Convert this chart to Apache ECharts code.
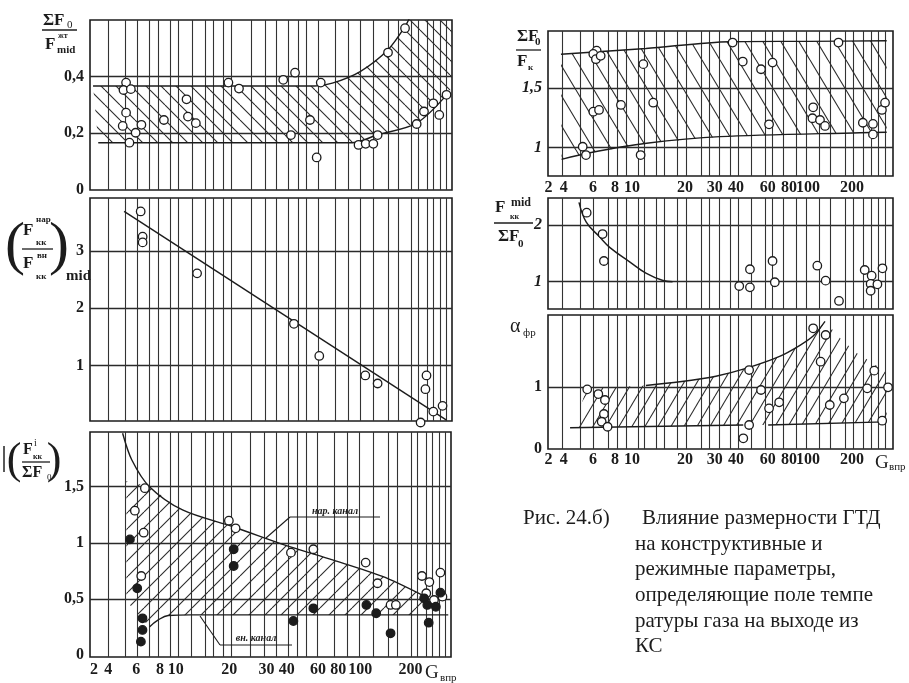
<!DOCTYPE html>
<html><head><meta charset="utf-8">
<script src="https://cdn.jsdelivr.net/npm/echarts@6/dist/echarts.min.js"></script>
<style>html,body{margin:0;padding:0;background:#fff}#c{width:909px;height:683px}</style>
</head><body><div id="c"></div>
<script>
// ===== DATA (G = x value, v = y value) =====
const xTickLabels = ['2','4','6','8','10','20','30','40','60','80','100','200'];
const xTickAtLeft  = [3.6,4.3,6.1,8.2,10,19.5,31,40,59,76,100,187];
const xTickAtRight = [3.36,4.1,6,8,10,20,29.5,39,59,78,100,178];
const xGridLeft  = [4.3,5.3,6.2,7.2,8,9.3,10.3,12.2,14.4,15.9,18,20,25.4,30.3,35,40.5,45.8,50.8,58.7,72.3,85.3,99,117,141,159,188,204,227,246,267,290];
const xGridRight = [4,5.1,6,7.3,8.3,9.3,10.8,11.8,13.7,15.3,18,20.4,24.8,27.6,31.5,36,40,47.6,57,63,72,86,98,116,133,162,180,205,229,250,273];

// Panel A: ΣF0 / F^жт_mid
const aOpen = [[5.37,0.379],[5.2,0.353],[5.7,0.356],[5.37,0.273],[5.15,0.226],[6.05,0.202],[5.6,0.167],[6.5,0.23],[8.6,0.247],[11.4,0.32],[11.6,0.259],[12.8,0.236],[19.2,0.379],[21.9,0.358],[38,0.389],[44,0.414],[41.8,0.194],[53,0.247],[57.6,0.115],[60.6,0.379],[97,0.159],[106,0.163],[116.6,0.163],[123,0.194],[140,0.485],[173,0.571],[200,0.233],[219,0.277],[246,0.306],[265,0.265],[290,0.336]];
const aUpper = [[3.56,0.367],[30,0.367],[56,0.367],[70,0.377],[99,0.418],[140,0.495],[173,0.577],[190,0.63]];
const aLower = [[3.8,0.167],[50,0.167],[90,0.167],[122,0.194],[200,0.236],[296,0.342]];
const aBandTop = [[3.56,0.367],[30,0.367],[56,0.367],[70,0.377],[99,0.418],[140,0.495],[173,0.577],[190,0.63],[310,0.63]];
const aBandBottom = [[3.8,0.167],[50,0.167],[90,0.167],[122,0.194],[200,0.236],[296,0.342],[310,0.36]];

// Panel B: (F^нар_кк / F^вн_кк)_mid
const bOpen = [[6.44,3.69],[6.6,3.25],[6.6,3.15],[13.0,2.61],[43.4,1.73],[59.5,1.17],[105.5,0.83],[123,0.69],[226,0.83],[223,0.59],[210,0.01],[246,0.2],[276,0.3]];
const bLine = [[5.24,3.69],[290,0.05]];

// Panel C: (F^i_кк / ΣF0)
const cOpen = [[6.8,1.486],[6.0,1.286],[6.7,1.09],[6.5,0.704],[19.4,1.197],[21.1,1.129],[42.1,0.912],[55.7,0.942],[107,0.823],[124,0.639],[146,0.446],[156,0.446],[216,0.704],[237,0.65],[228,0.55],[272,0.734],[251,0.49],[279,0.52]];
const cFilled = [[5.64,1.03],[6.18,0.594],[6.6,0.327],[6.6,0.223],[6.47,0.119],[20.6,0.942],[20.6,0.793],[43.4,0.303],[55.7,0.416],[108,0.446],[122,0.372],[146,0.193],[222,0.505],[231,0.446],[257,0.43],[235,0.288],[272,0.555]];
const cUpper = [[5.15,1.976],[5.77,1.74],[7.2,1.5],[10.95,1.29],[20.4,1.143],[41.4,0.965],[70.8,0.847],[132,0.70],[216,0.535]];
const cLower = [[7.2,0.25],[8.0,0.31],[9.1,0.352],[12,0.357],[300,0.357]];
const cBandTop = [[5.4,1.55],[7.2,1.5],[10.95,1.29],[20.4,1.143],[41.4,0.965],[70.8,0.847],[132,0.70],[216,0.535]];
const cBandBottom = [[5.4,0.48],[7.2,0.25],[8.0,0.31],[9.1,0.352],[12,0.357],[216,0.357]];

// Panel D: ΣF0 / F_к
const dOpen = [[6.3,1.817],[6.03,1.789],[6.24,1.745],[6.64,1.773],[11.6,1.703],[6.03,1.303],[6.5,1.318],[8.66,1.36],[13.2,1.379],[5.25,1.008],[5.48,0.938],[11.2,0.938],[37.3,1.885],[42.6,1.725],[54.1,1.66],[62.9,1.716],[60.1,1.197],[107,1.34],[106,1.248],[117,1.233],[125,1.183],[149,1.885],[205,1.21],[234,1.2],[234,1.112],[263,1.318],[274,1.379]];
const dUpper = [[3.95,1.786],[12,1.835],[36,1.892],[100,1.895],[280,1.9]];
const dLower = [[3.98,0.902],[5.77,0.958],[12.1,1.037],[31.6,1.093],[197,1.126],[280,1.13]];

// Panel E: F^mid_кк / ΣF0
const eOpen = [[5.53,2.217],[6.81,1.84],[6.93,1.365],[40.7,0.924],[46.8,1.219],[46.8,0.90],[62.9,1.365],[64.8,0.99],[113,1.282],[126,1.018],[150,0.66],[210,1.206],[230,1.106],[227,0.96],[227,0.84],[248,0.954],[265,1.236]];
const eCurve = [[5.0,2.4],[5.5,2.05],[6.5,1.8],[7.5,1.6],[9.7,1.35],[12,1.15],[15,1.02],[17,1.0]];

// Panel F: α_фр
const fOpen = [[5.57,0.967],[6.44,0.891],[7.02,0.794],[6.93,0.567],[6.73,0.442],[7.27,0.361],[46.3,1.28],[46.3,0.389],[42.9,0.173],[54.1,0.956],[60.1,0.659],[68.6,0.757],[107,1.956],[126,1.848],[118,1.415],[133,0.713],[160,0.821],[238,1.27],[217,0.983],[285,1.0],[264,0.459]];
const fUpper = [[12,1.03],[18.7,1.09],[30,1.18],[44.9,1.31],[69,1.5],[90,1.68],[107,1.83],[125,2.07]];
const fLower1 = [[4.45,0.345],[42.9,0.389]];
const fLower2 = [[59.4,0.389],[273,0.44]];
const fBandTop = [[4.86,0.48],[5.5,0.98],[12,1.03],[18.7,1.09],[30,1.18],[44.9,1.31],[69,1.5],[90,1.68],[107,1.83],[125,2.07],[152,1.8],[189,1.556],[234,1.394],[280,1.23]];
const fBandBottom = [[4.86,0.35],[42.9,0.389],[59.4,0.389],[280,0.44]];

// ===== helpers =====
const INK = '#1c1c1c';
const LG = a => a.map(p => [Math.log10(p[0]), p[1]]);
const SERIF = '"Liberation Serif", "DejaVu Serif", serif';

function hatch(d, h, dir) {
  const c = document.createElement('canvas');
  c.width = d; c.height = h;
  const ctx = c.getContext('2d');
  ctx.strokeStyle = '#2a2a2a'; ctx.lineWidth = 1.1;
  for (let k = -1; k <= 1; k++) {
    ctx.beginPath();
    if (dir > 0) { ctx.moveTo(k * d, 0); ctx.lineTo(k * d + d, h); }
    else { ctx.moveTo(k * d + d, 0); ctx.lineTo(k * d, h); }
    ctx.stroke();
  }
  return c;
}

function band(gi, top, bottom, pat) {
  return {
    type: 'custom', xAxisIndex: gi, yAxisIndex: gi, silent: true, z: 1, clip: true,
    data: [LG([top[0]])[0]],
    renderItem: (params, api) => {
      const poly = top.concat(bottom.slice().reverse()).map(p => api.coord([Math.log10(p[0]), p[1]]));
      const cs = params.coordSys;
      return {
        type: 'polygon', shape: { points: poly },
        style: { fill: { image: pat, repeat: 'repeat' }, stroke: null },
        clipPath: { type: 'rect', shape: { x: cs.x, y: cs.y, width: cs.width, height: cs.height } }
      };
    }
  };
}
function pts(gi, data, filled) {
  return { type: 'scatter', xAxisIndex: gi, yAxisIndex: gi, data: LG(data), symbol: 'circle', symbolSize: 8.5,
    clip: false, z: 6, silent: true,
    itemStyle: { color: filled ? INK : '#fff', borderColor: INK, borderWidth: 1.3, opacity: 1 } };
}
function curve(gi, data, smooth) {
  return { type: 'line', xAxisIndex: gi, yAxisIndex: gi, data: LG(data), smooth: smooth, showSymbol: false,
    symbol: 'none', z: 4, silent: true, clip: true, lineStyle: { color: INK, width: 1.4 } };
}
function xAx(gi, side, showLabels, margin) {
  const at = side === 'L' ? xTickAtLeft : xTickAtRight;
  const grid = side === 'L' ? xGridLeft : xGridRight;
  const atL = at.map(Math.log10);
  return {
    type: 'value', gridIndex: gi, min: side === 'L' ? 0.535 : 0.523, max: side === 'L' ? 2.492 : 2.483,
    axisLine: { show: false },
    axisTick: { show: false, customValues: grid.map(Math.log10) },
    splitLine: { show: true, lineStyle: { color: '#333', width: 1.1 } },
    axisLabel: {
      show: showLabels, customValues: atL, margin: margin || 4,
      fontFamily: SERIF, fontWeight: 'bold', fontSize: 16, color: INK,
      formatter: v => { let best = 0; atL.forEach((a, i) => { if (Math.abs(a - v) < Math.abs(atL[best] - v)) best = i; }); return xTickLabels[best]; }
    }
  };
}
function yAx(gi, min, max, lines, labels, italic) {
  return {
    type: 'value', gridIndex: gi, min: min, max: max,
    axisLine: { show: false },
    axisTick: { show: false, customValues: lines },
    splitLine: { show: true, lineStyle: { color: '#2a2a2a', width: 1.3 } },
    axisLabel: {
      customValues: labels, margin: 6, fontFamily: SERIF, fontWeight: 'bold', fontSize: 16,
      fontStyle: italic ? 'italic' : 'normal', color: INK,
      formatter: v => String(+v.toFixed(2)).replace('.', ',')
    }
  };
}
function T(text, x, y, font, align) {
  return { type: 'text', x: x, y: y, silent: true, z: 100,
    style: { text: text, font: font, fill: INK, align: align || 'left', textAlign: align || 'left',
      verticalAlign: 'middle', textVerticalAlign: 'middle' } };
}
function Ln(x1, y1, x2, y2, w) {
  return { type: 'line', silent: true, z: 100, shape: { x1: x1, y1: y1, x2: x2, y2: y2 },
    style: { stroke: INK, lineWidth: w || 1.3 } };
}
const B = s => 'bold ' + s + 'px ' + SERIF;
const N = s => s + 'px ' + SERIF;

const patA = hatch(15, 15, 1);
const patC = hatch(16, 16, -1);
const patD = hatch(18, 30, 1);
const patF = hatch(13, 22, -1);

const gridBox = { show: true, borderColor: INK, borderWidth: 1.6, backgroundColor: 'transparent', containLabel: false };

const option = {
  animation: false,
  backgroundColor: '#fff',
  grid: [
    Object.assign({ left: 90, top: 20, width: 362, height: 170 }, gridBox),
    Object.assign({ left: 90, top: 198, width: 362, height: 223 }, gridBox),
    Object.assign({ left: 90, top: 432, width: 361, height: 225 }, gridBox),
    Object.assign({ left: 548, top: 31, width: 345, height: 145 }, gridBox),
    Object.assign({ left: 548, top: 198, width: 345, height: 111 }, gridBox),
    Object.assign({ left: 548, top: 315, width: 345, height: 134 }, gridBox)
  ],
  xAxis: [
    xAx(0, 'L', false), xAx(1, 'L', false), xAx(2, 'L', true, 5),
    xAx(3, 'R', true, 4), xAx(4, 'R', false), xAx(5, 'R', true, 3)
  ],
  yAxis: [
    yAx(0, 0, 0.6, [0.2, 0.4], [0, 0.2, 0.4], false),
    yAx(1, 0.036, 3.924, [1, 2, 3], [1, 2, 3], false),
    yAx(2, -0.018, 1.987, [0.5, 1, 1.5], [0, 0.5, 1, 1.5], false),
    yAx(3, 0.762, 1.982, [1, 1.5], [1, 1.5], true),
    yAx(4, 0.518, 2.476, [1, 2], [1, 2], true),
    yAx(5, 0, 2.172, [1], [0, 1], false)
  ],
  series: [
    band(0, aBandTop, aBandBottom, patA), curve(0, aUpper, 0.3), curve(0, aLower, 0.3),
    pts(0, aOpen, false),
    curve(1, bLine, false), pts(1, bOpen, false),
    band(2, cBandTop, cBandBottom, patC), curve(2, cUpper, 0.3), curve(2, cLower, 0.4),
    pts(2, cOpen, false), pts(2, cFilled, true),
    band(3, dUpper, dLower, patD), curve(3, dUpper, 0.3), curve(3, dLower, 0.3), pts(3, dOpen, false),
    curve(4, eCurve, 0.4), pts(4, eOpen, false),
    band(5, fBandTop, fBandBottom, patF), curve(5, fUpper, 0.3), curve(5, fLower1, false), curve(5, fLower2, false),
    pts(5, fOpen, false)
  ],
  graphic: [
    // Panel A y-name
    T('ΣF', 43, 21, B(17)), T('0', 67, 25, N(11)), Ln(42, 30, 77, 30),
    T('F', 45, 45, B(17)), T('жт', 58, 36, B(8)), T('mid', 57, 50, B(11)),
    // Panel B y-name
    T('(', 15, 247, N(60), 'center'),
    T('F', 23, 231, B(17)), T('нар', 36, 220, B(9)), T('кк', 36, 243, B(9)),
    Ln(22, 249, 53, 249),
    T('F', 23, 264, B(17)), T('вн', 37, 256, B(9)), T('кк', 36, 277, B(9)),
    T(')', 59, 247, N(60), 'center'), T('mid', 66, 276, B(15)),
    // Panel C y-name
    T('|', 4, 458, N(30), 'center'), T('(', 14, 461, N(44), 'center'),
    T('F', 23, 450, B(16)), T('i', 34, 443, N(10)), T('кк', 33, 457, B(8)),
    Ln(22, 462, 50, 462),
    T('ΣF', 22, 473, B(16)), T('0', 47, 478, N(9)),
    T(')', 54, 461, N(44), 'center'),
    // Panel D y-name
    T('ΣF', 517, 37, B(17)), T('0', 535, 42, B(11)), Ln(516, 50, 541, 50),
    T('F', 517, 62, B(17)), T('к', 528, 68, B(9)),
    // Panel E y-name
    T('F', 495, 208, B(17)), T('mid', 511, 203, B(12)), T('кк', 510, 217, B(8)),
    Ln(494, 223, 533, 223),
    T('ΣF', 498, 237, B(17)), T('0', 518, 244, B(11)),
    // Panel F y-name
    T('α', 510, 327, N(20)), T('фр', 523, 333, N(11)),
    // x names
    T('G', 425, 673, N(19)), T('впр', 440, 678, N(11)),
    T('G', 875, 463, N(19)), T('впр', 889, 467, N(11)),
    // annotations
    T('нар. канал', 335, 511, 'italic bold 10px ' + SERIF, 'center'), Ln(290, 517, 380, 517, 1.1), Ln(290, 517, 266, 538, 1.1),
    T('вн. канал', 256, 638, 'italic bold 10px ' + SERIF, 'center'), Ln(220, 645, 292, 645, 1.1), Ln(220, 645, 200, 616, 1.1),
    // caption
    T('Рис. 24.б)', 523, 518, N(21)),
    T('Влияние размерности ГТД', 642, 518, N(21)),
    T('на конструктивные и', 635, 544, N(21)),
    T('режимные параметры,', 635, 569, N(21)),
    T('определяющие поле темпе', 635, 595, N(21)),
    T('ратуры газа на выходе из', 635, 621, N(21)),
    T('КС', 635, 646, N(21))
  ]
};

const chart = echarts.init(document.getElementById('c'), null, { renderer: 'canvas' });
chart.setOption(option);
</script>
</body></html>
